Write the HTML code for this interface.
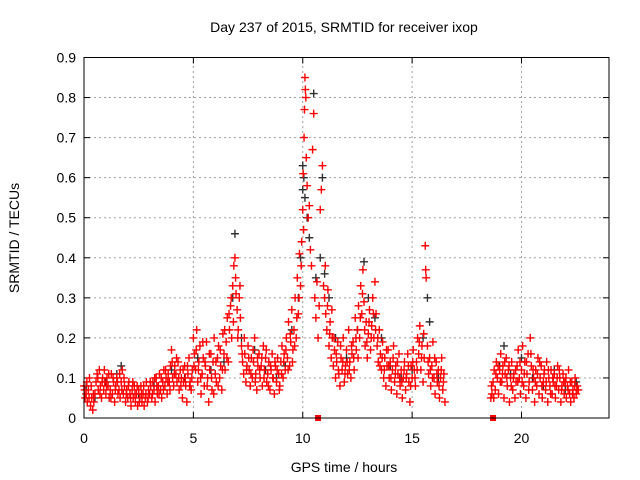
<!DOCTYPE html>
<html><head><meta charset="utf-8">
<style>
html,body{margin:0;padding:0;background:#fff;}
svg{display:block;font-family:"Liberation Sans",sans-serif;}
</style></head>
<body>
<svg id="chart" width="640" height="480" viewBox="0 0 640 480">
<rect width="640" height="480" fill="#fff"/>
<text x="344" y="32" font-size="14" text-anchor="middle">Day 237 of 2015, SRMTID for receiver ixop</text>
<text transform="translate(19,238) rotate(-90)" font-size="14" text-anchor="middle">SRMTID / TECUs</text>
<text x="344" y="472" font-size="14" text-anchor="middle">GPS time / hours</text>
<g id="grid"></g>
<g id="ticks"></g>
<g id="marks"></g>
<rect x="84" y="57.5" width="525" height="360.5" fill="none" stroke="#000" stroke-width="1"/>
</svg>
<script>
const xTicks=[0,5,10,15,20];
const yTicks=[0,0.1,0.2,0.3,0.4,0.5,0.6,0.7,0.8,0.9];
const yTickLabels=["0","0.1","0.2","0.3","0.4","0.5","0.6","0.7","0.8","0.9"];
const blackPts=[[0.1,0.08],[0.5,0.05],[1.0,0.09],[1.5,0.11],[1.7,0.13],[2.5,0.06],[3.2,0.08],[4.0,0.12],[4.6,0.1],[5.2,0.15],[5.8,0.12],[6.4,0.14],[6.8,0.3],[6.9,0.46],[7.2,0.2],[7.8,0.17],[8.3,0.12],[8.8,0.1],[9.2,0.13],[9.5,0.22],[9.8,0.3],[9.9,0.4],[10.0,0.57],[10.0,0.63],[10.05,0.6],[10.1,0.55],[10.2,0.5],[10.3,0.45],[10.5,0.81],[10.6,0.35],[10.8,0.4],[10.9,0.6],[11.0,0.36],[11.2,0.3],[11.5,0.2],[12.0,0.15],[12.5,0.22],[12.8,0.39],[13.0,0.3],[13.3,0.25],[13.6,0.2],[14.0,0.13],[14.5,0.1],[15.0,0.12],[15.5,0.2],[15.7,0.3],[15.8,0.24],[16.2,0.1],[19.0,0.13],[19.2,0.18],[19.5,0.11],[20.0,0.15],[20.5,0.1],[21.0,0.08],[21.5,0.12],[22.0,0.07],[22.5,0.09]];
const redPts=[
[0.0,0.08],[0.05,0.05],[0.1,0.06],[0.15,0.04],[0.2,0.07],[0.25,0.1],[0.3,0.03],[0.35,0.05],[0.4,0.02],[0.45,0.04],[0.5,0.06],[0.55,0.09],[0.6,0.11],[0.65,0.07],[0.7,0.12],[0.75,0.08],[0.8,0.05],[0.85,0.1],[0.9,0.07],[0.95,0.09],
[1.0,0.06],[1.05,0.1],[1.1,0.08],[1.15,0.05],[1.2,0.07],[1.25,0.11],[1.3,0.06],[1.35,0.09],[1.4,0.04],[1.45,0.08],[1.5,0.1],[1.55,0.06],[1.6,0.07],[1.65,0.05],[1.7,0.09],[1.75,0.12],[1.8,0.06],[1.85,0.08],[1.9,0.04],[1.95,0.07],
[2.0,0.05],[2.05,0.09],[2.1,0.06],[2.15,0.03],[2.2,0.07],[2.25,0.05],[2.3,0.08],[2.35,0.04],[2.4,0.06],[2.45,0.03],[2.5,0.07],[2.55,0.05],[2.6,0.08],[2.65,0.04],[2.7,0.06],[2.75,0.03],[2.8,0.05],[2.85,0.09],[2.9,0.04],[2.95,0.07],
[3.0,0.06],[3.05,0.08],[3.1,0.05],[3.15,0.09],[3.2,0.07],[3.25,0.04],[3.3,0.1],[3.35,0.06],[3.4,0.08],[3.45,0.11],[3.5,0.07],[3.55,0.05],[3.6,0.09],[3.65,0.12],[3.7,0.08],[3.75,0.1],[3.8,0.06],[3.85,0.11],[3.9,0.09],[3.95,0.13],
[4.0,0.17],[4.05,0.1],[4.1,0.08],[4.15,0.13],[4.2,0.11],[4.25,0.09],[4.3,0.14],[4.35,0.07],[4.4,0.12],[4.45,0.1],[4.5,0.05],[4.55,0.09],[4.6,0.13],[4.65,0.08],[4.7,0.04],[4.75,0.11],[4.8,0.15],[4.85,0.09],[4.9,0.07],[4.95,0.12],
[5.0,0.2],[5.05,0.16],[5.1,0.12],[5.15,0.22],[5.2,0.09],[5.25,0.14],[5.3,0.18],[5.35,0.06],[5.4,0.11],[5.45,0.15],[5.5,0.08],[5.55,0.13],[5.6,0.19],[5.65,0.1],[5.7,0.04],[5.75,0.12],[5.8,0.16],[5.85,0.07],[5.9,0.14],[5.95,0.2],
[6.0,0.11],[6.05,0.09],[6.1,0.15],[6.15,0.18],[6.2,0.1],[6.25,0.13],[6.3,0.07],[6.35,0.21],[6.4,0.16],[6.45,0.12],[6.5,0.19],[6.55,0.25],[6.6,0.14],[6.65,0.22],[6.7,0.28],[6.75,0.2],[6.8,0.33],[6.85,0.38],[6.9,0.4],[6.95,0.31],
[7.0,0.27],[7.05,0.22],[7.1,0.3],[7.15,0.25],[7.2,0.18],[7.25,0.14],[7.3,0.11],[7.35,0.16],[7.4,0.09],[7.45,0.13],[7.5,0.18],[7.55,0.12],[7.6,0.08],[7.65,0.15],[7.7,0.1],[7.75,0.14],[7.8,0.2],[7.85,0.11],[7.9,0.07],[7.95,0.13],
[8.0,0.16],[8.05,0.1],[8.1,0.13],[8.15,0.08],[8.2,0.18],[8.25,0.12],[8.3,0.15],[8.35,0.09],[8.4,0.11],[8.45,0.14],[8.5,0.07],[8.55,0.12],[8.6,0.16],[8.65,0.1],[8.7,0.06],[8.75,0.13],[8.8,0.09],[8.85,0.15],[8.9,0.11],[8.95,0.08],
[9.0,0.14],[9.05,0.18],[9.1,0.1],[9.15,0.16],[9.2,0.12],[9.25,0.2],[9.3,0.15],[9.35,0.24],[9.4,0.13],[9.45,0.19],[9.5,0.27],[9.55,0.17],[9.6,0.22],[9.65,0.3],[9.7,0.2],[9.75,0.35],[9.8,0.26],[9.85,0.41],[9.9,0.33],[9.95,0.44],
[10.0,0.52],[10.02,0.61],[10.04,0.47],[10.06,0.7],[10.08,0.77],[10.1,0.85],[10.12,0.82],[10.14,0.8],[10.16,0.65],[10.2,0.58],[10.25,0.5],[10.3,0.53],[10.35,0.42],[10.4,0.38],[10.45,0.67],[10.5,0.76],[10.55,0.3],[10.6,0.25],[10.65,0.34],[10.7,0.2],
[10.75,0.28],[10.8,0.52],[10.85,0.57],[10.9,0.63],[10.95,0.33],[11.0,0.3],[11.05,0.26],[11.1,0.22],[11.15,0.32],[11.2,0.18],[11.25,0.24],[11.3,0.15],[11.35,0.2],[11.4,0.13],[11.45,0.17],[11.5,0.1],[11.55,0.14],[11.6,0.19],[11.65,0.11],[11.7,0.08],
[11.75,0.15],[11.8,0.12],[11.85,0.2],[11.9,0.09],[11.95,0.13],[12.0,0.17],[12.05,0.11],[12.1,0.22],[12.15,0.14],[12.2,0.1],[12.25,0.16],[12.3,0.19],[12.35,0.12],[12.4,0.25],[12.45,0.17],[12.5,0.22],[12.55,0.28],[12.6,0.2],[12.65,0.33],[12.7,0.26],
[12.75,0.37],[12.8,0.29],[12.85,0.18],[12.9,0.24],[12.95,0.15],[13.0,0.21],[13.05,0.27],[13.1,0.17],[13.15,0.23],[13.2,0.3],[13.25,0.2],[13.3,0.34],[13.35,0.26],[13.4,0.18],[13.45,0.14],[13.5,0.22],[13.55,0.16],[13.6,0.12],[13.65,0.19],[13.7,0.1],
[13.75,0.15],[13.8,0.08],[13.85,0.13],[13.9,0.17],[13.95,0.1],[14.0,0.14],[14.05,0.07],[14.1,0.12],[14.15,0.18],[14.2,0.09],[14.25,0.13],[14.3,0.06],[14.35,0.11],[14.4,0.16],[14.45,0.08],[14.5,0.12],[14.55,0.05],[14.6,0.1],[14.65,0.14],[14.7,0.07],
[14.75,0.11],[14.8,0.16],[14.85,0.09],[14.9,0.04],[14.95,0.13],[15.0,0.1],[15.05,0.17],[15.1,0.12],[15.15,0.08],[15.2,0.14],[15.25,0.2],[15.3,0.16],[15.35,0.23],[15.4,0.12],[15.45,0.18],[15.5,0.09],[15.55,0.15],[15.6,0.43],[15.62,0.37],[15.64,0.35],
[15.7,0.18],[15.75,0.11],[15.8,0.15],[15.85,0.08],[15.9,0.13],[15.95,0.19],[16.0,0.1],[16.05,0.06],[16.1,0.14],[16.15,0.09],[16.2,0.12],[16.25,0.05],[16.3,0.1],[16.35,0.15],[16.4,0.07],[16.45,0.11],[16.5,0.04],
[18.6,0.05],[18.65,0.06],[18.7,0.09],[18.75,0.12],[18.8,0.07],[18.85,0.14],[18.9,0.1],[18.95,0.06],[19.0,0.12],[19.05,0.16],[19.1,0.09],[19.15,0.13],[19.2,0.05],[19.25,0.11],[19.3,0.15],[19.35,0.08],[19.4,0.12],[19.45,0.04],[19.5,0.1],[19.55,0.14],
[19.6,0.07],[19.65,0.11],[19.7,0.05],[19.75,0.09],[19.8,0.13],[19.85,0.17],[19.9,0.1],[19.95,0.06],[20.0,0.12],[20.05,0.18],[20.1,0.08],[20.15,0.14],[20.2,0.05],[20.25,0.11],[20.3,0.16],[20.35,0.09],[20.4,0.2],[20.45,0.13],[20.5,0.07],[20.55,0.1],
[20.6,0.04],[20.65,0.12],[20.7,0.08],[20.75,0.15],[20.8,0.06],[20.85,0.1],[20.9,0.13],[20.95,0.05],[21.0,0.09],[21.05,0.12],[21.1,0.07],[21.15,0.14],[21.2,0.04],[21.25,0.1],[21.3,0.08],[21.35,0.12],[21.4,0.06],[21.45,0.09],[21.5,0.11],[21.55,0.05],
[21.6,0.08],[21.65,0.13],[21.7,0.07],[21.75,0.1],[21.8,0.04],[21.85,0.08],[21.9,0.11],[21.95,0.06],[22.0,0.09],[22.05,0.05],[22.1,0.08],[22.15,0.12],[22.2,0.06],[22.25,0.04],[22.3,0.09],[22.35,0.07],[22.4,0.05],[22.45,0.1],[22.5,0.06],[22.55,0.08],[22.6,0.07]
];
const redPts2=[
[0.03,0.07],[0.13,0.09],[0.23,0.05],[0.33,0.08],[0.43,0.06],[0.63,0.1],[0.73,0.06],[0.83,0.09],[0.93,0.12],[1.03,0.08],[1.13,0.11],[1.23,0.05],[1.33,0.1],[1.43,0.07],[1.53,0.09],[1.63,0.11],[1.73,0.07],[1.83,0.1],[1.93,0.06],
[2.03,0.08],[2.13,0.05],[2.23,0.09],[2.33,0.06],[2.43,0.08],[2.53,0.04],[2.63,0.06],[2.73,0.08],[2.83,0.06],[2.93,0.05],[3.03,0.09],[3.13,0.06],[3.23,0.1],[3.33,0.08],[3.43,0.06],[3.53,0.1],[3.63,0.07],[3.73,0.12],[3.83,0.09],[3.93,0.07],
[4.03,0.14],[4.13,0.11],[4.23,0.15],[4.33,0.1],[4.43,0.08],[4.53,0.12],[4.63,0.1],[4.73,0.13],[4.83,0.08],[4.93,0.1],[5.03,0.13],[5.13,0.17],[5.23,0.12],[5.33,0.1],[5.43,0.19],[5.53,0.14],[5.63,0.08],[5.73,0.16],[5.83,0.1],[5.93,0.06],
[6.03,0.14],[6.13,0.08],[6.23,0.17],[6.33,0.12],[6.43,0.22],[6.53,0.15],[6.63,0.26],[6.73,0.3],[6.83,0.24],[6.93,0.35],[7.03,0.2],[7.13,0.33],[7.23,0.16],[7.33,0.2],[7.43,0.12],[7.53,0.15],[7.63,0.11],[7.73,0.17],[7.83,0.09],[7.93,0.15],
[8.03,0.12],[8.13,0.15],[8.23,0.1],[8.33,0.17],[8.43,0.08],[8.53,0.13],[8.63,0.1],[8.73,0.14],[8.83,0.12],[8.93,0.07],[9.03,0.11],[9.13,0.14],[9.23,0.17],[9.33,0.12],[9.43,0.21],[9.53,0.14],[9.63,0.18],[9.73,0.25],[9.83,0.3],[9.93,0.38],
[11.03,0.38],[11.13,0.28],[11.23,0.21],[11.33,0.27],[11.43,0.2],[11.53,0.16],[11.63,0.12],[11.73,0.18],[11.83,0.14],[11.93,0.11],[12.03,0.14],[12.13,0.12],[12.23,0.18],[12.33,0.15],[12.43,0.2],[12.53,0.15],[12.63,0.25],[12.73,0.31],[12.83,0.22],[12.93,0.19],
[13.03,0.24],[13.13,0.2],[13.23,0.26],[13.33,0.22],[13.43,0.2],[13.53,0.13],[13.63,0.15],[13.73,0.12],[13.83,0.17],[13.93,0.13],[14.03,0.1],[14.13,0.15],[14.23,0.11],[14.33,0.14],[14.43,0.1],[14.53,0.09],[14.63,0.12],[14.73,0.1],[14.83,0.13],[14.93,0.08],
[15.03,0.14],[15.13,0.1],[15.23,0.12],[15.33,0.19],[15.43,0.15],[15.53,0.21],[15.73,0.14],[15.83,0.12],[15.93,0.1],[16.03,0.15],[16.13,0.11],[16.23,0.08],[16.33,0.12],[16.43,0.09],
[18.63,0.08],[18.73,0.05],[18.83,0.11],[18.93,0.13],[19.03,0.09],[19.13,0.11],[19.23,0.14],[19.33,0.1],[19.43,0.13],[19.53,0.08],[19.63,0.1],[19.73,0.12],[19.83,0.09],[19.93,0.14],[20.03,0.09],[20.13,0.11],[20.23,0.14],[20.33,0.07],[20.43,0.16],[20.53,0.12],
[20.63,0.09],[20.73,0.11],[20.83,0.14],[20.93,0.08],[21.03,0.11],[21.13,0.09],[21.23,0.12],[21.33,0.06],[21.43,0.1],[21.53,0.08],[21.63,0.1],[21.73,0.12],[21.83,0.07],[21.93,0.09],[22.03,0.1],[22.13,0.07],[22.23,0.09],[22.33,0.06],[22.43,0.08],[22.53,0.07]
];
const gapMarks=[10.7,18.7];

const X0=84,X1=609,Y0=418,Y1=57.5,XMAX=24,YMAX=0.9;
function sx(v){return X0+(v/XMAX)*(X1-X0);}
function sy(v){return Y0-(v/YMAX)*(Y0-Y1);}
const NS="http://www.w3.org/2000/svg";
function mk(tag,attrs,parent){const e=document.createElementNS(NS,tag);for(const k in attrs)e.setAttribute(k,attrs[k]);parent.appendChild(e);return e;}
const grid=document.getElementById('grid'),ticks=document.getElementById('ticks'),marks=document.getElementById('marks');
yTicks.forEach((t,i)=>{
  const y=sy(t);
  if(t>0&&t<YMAX){const g=mk('line',{x1:X0,x2:X1,y1:y,y2:y,stroke:'#a0a0a0','stroke-dasharray':'2,3'},grid);
  
  }
  mk('line',{x1:X0,x2:X0+6,y1:y,y2:y,stroke:'#000'},ticks);
  mk('line',{x1:X1,x2:X1-6,y1:y,y2:y,stroke:'#000'},ticks);
  const tx=mk('text',{x:X0-8,y:y+5,'font-size':14,'text-anchor':'end'},ticks);
  tx.textContent=yTickLabels[i];
  
  
});
xTicks.forEach(t=>{
  const x=sx(t);
  if(t>0){const g=mk('line',{x1:x,x2:x,y1:Y0,y2:Y1,stroke:'#a0a0a0','stroke-dasharray':'2,3'},grid);
  
  }
  mk('line',{x1:x,x2:x,y1:Y0,y2:Y0-6,stroke:'#000'},ticks);
  mk('line',{x1:x,x2:x,y1:Y1,y2:Y1+6,stroke:'#000'},ticks);
  const tx=mk('text',{x:x,y:Y0+25,'font-size':14,'text-anchor':'middle'},ticks);
  tx.textContent=String(t);
  
  
});
function plus(p,color,name){
  const x=sx(p[0]),y=sy(p[1]);
  const e=mk('path',{d:`M${x-4},${y}H${x+4}M${x},${y-4}V${y+4}`,stroke:color,'stroke-width':1.4,fill:'none'},marks);
  
  
}
blackPts.forEach(p=>plus(p,'#303030','black-point'));
redPts.forEach(p=>plus(p,'#ff0000','red-point'));
redPts2.forEach(p=>plus(p,'#ff0000','red-point'));
gapMarks.forEach(t=>{
  const r=mk('rect',{x:sx(t)-3,y:Y0-3,width:6,height:6,fill:'#ff0000'},marks);
  
  
});
</script>
</body></html>
